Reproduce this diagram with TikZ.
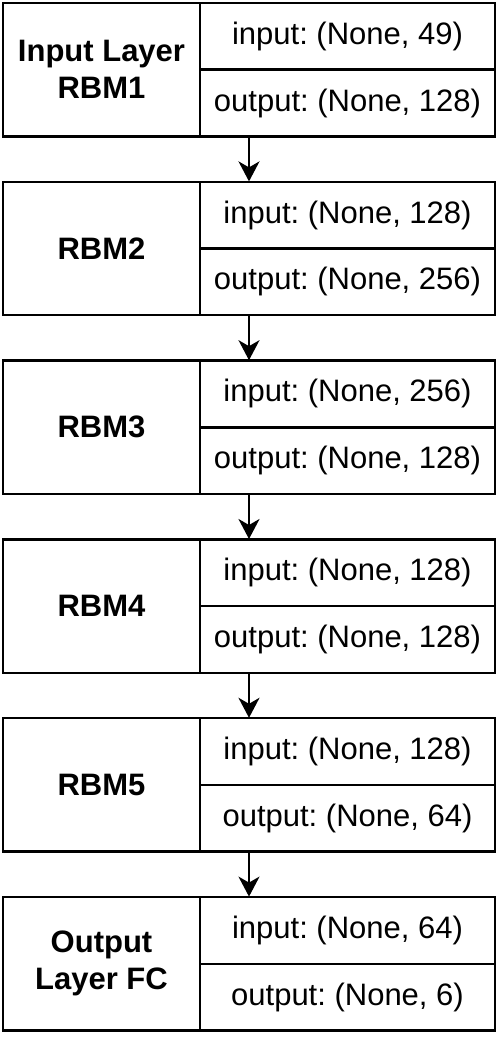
\documentclass[tikz,border=0pt]{standalone}
\usepackage{fontspec}
\setmainfont{Liberation Sans}
\usepackage{xcolor}
\usetikzlibrary{arrows.meta,positioning,fit}
\definecolor{ink}{HTML}{000000}
\frenchspacing

\tikzset{
  cell/.style={draw=ink,line width=1.2pt,fill=white,inner sep=0pt,outer sep=0pt,
               align=center,font=\fontsize{15.5}{18.5}\selectfont},
  namecell/.style={cell,font=\fontsize{15.5}{18.5}\selectfont\bfseries,
               minimum width=98.5pt,minimum height=66.7pt,anchor=north west},
  iocell/.style={cell,minimum width=147.5pt,minimum height=33.35pt,anchor=north west},
  flow/.style={-{Stealth[length=10pt,width=10.5pt,inset=3pt]},draw=ink,line width=1.1pt}
}

\begin{document}
\begin{tikzpicture}[x=0.5pt,y=-0.5pt]
  \useasboundingbox (0,0) rectangle (499,1043);
  % one block per layer: name on the left, shapes on the right
  \foreach \i/\lbl/\inp/\outp in {1/Input Layer\\RBM1/49/128,
                                  2/RBM2/128/256,
                                  3/RBM3/256/128,
                                  4/RBM4/128/128,
                                  5/RBM5/128/64,
                                  6/Output\\Layer FC/64/6}{
    \node[namecell] (name\i) at (3,{3+178.8*(\i-1)}) {\lbl};
    \node[iocell] (in\i) at (name\i.north east) {input: (None, \inp)};
    \node[iocell] (out\i) at (in\i.south west) {output: (None, \outp)};
    \node[fit=(name\i)(out\i),inner sep=0pt] (blk\i) {};
  }
  % arrows between the blocks
  \foreach \i in {1,...,5}{
    \pgfmathtruncatemacro\nxt{\i+1}
    \draw[flow] (blk\i.south) -- (blk\nxt.north);
  }
\end{tikzpicture}
\end{document}
